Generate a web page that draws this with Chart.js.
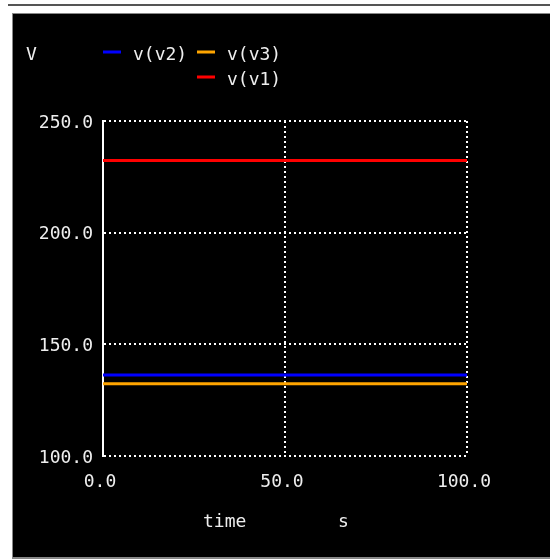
<!DOCTYPE html>
<html>
<head>
<meta charset="utf-8">
<script src="https://cdn.jsdelivr.net/npm/chart.js@4/dist/chart.umd.min.js"></script>
<style>
html,body{margin:0;padding:0;background:#fff;}
canvas{display:block;}
</style>
</head>
<body>
<canvas id="c" width="550" height="559"></canvas>
<script>
// ---- data ----
const time = [0, 100];
const v2 = [136.3, 136.3];
const v3 = [132.4, 132.4];
const v1 = [232.3, 232.3];
const seriesLabels = ['v(v2)', 'v(v3)', 'v(v1)'];
const seriesColors = ['#0000ff', '#ffa500', '#ff0000'];
const xTicks = [0, 50, 100];
const yTicks = [100, 150, 200, 250];
const yUnit = 'V';
const xTitle = 'time';
const xUnit = 's';

const FONT = '"DejaVu Sans Mono", "Liberation Mono", monospace';
const TXT = '#eeeeee';

const toPts = (xs, ys) => xs.map((x, i) => ({x: x, y: ys[i]}));

const framePlugin = {
  id: 'frame',
  beforeDraw(chart) {
    const ctx = chart.ctx;
    ctx.save();
    ctx.fillStyle = '#ffffff';
    ctx.fillRect(0, 0, 550, 559);
    ctx.fillStyle = '#555555';
    ctx.fillRect(8, 4, 542, 2);
    ctx.fillStyle = '#888888';
    ctx.fillRect(12, 13, 538, 546);
    ctx.fillStyle = '#000000';
    ctx.fillRect(13, 14, 537, 543);
    ctx.restore();
  },
  afterDraw(chart) {
    const ctx = chart.ctx;
    ctx.save();
    ctx.font = '18px ' + FONT;
    ctx.fillStyle = TXT;
    ctx.textBaseline = 'middle';
    ctx.textAlign = 'left';
    ctx.fillText(yUnit, 26, 55);
    // legend
    const slots = [
      {sx: 103, tx: 133, y: 52},
      {sx: 197, tx: 227, y: 52},
      {sx: 197, tx: 227, y: 77}
    ];
    chart.data.datasets.forEach((ds, i) => {
      const s = slots[i];
      ctx.fillStyle = ds.borderColor;
      ctx.fillRect(s.sx, s.y - 1.5, 18, 3);
      ctx.fillStyle = TXT;
      ctx.fillText(ds.label, s.tx, s.y + 3);
    });
    ctx.fillText(xTitle, 203, 522);
    ctx.fillText(xUnit, 338, 522);
    ctx.restore();
  }
};

new Chart(document.getElementById('c'), {
  type: 'line',
  data: {
    datasets: [
      {label: seriesLabels[0], data: toPts(time, v2), borderColor: seriesColors[0]},
      {label: seriesLabels[1], data: toPts(time, v3), borderColor: seriesColors[1]},
      {label: seriesLabels[2], data: toPts(time, v1), borderColor: seriesColors[2]}
    ]
  },
  options: {
    responsive: false,
    animation: false,
    devicePixelRatio: 1,
    layout: {padding: {left: 0, right: 83, top: 121, bottom: 0}},
    elements: {
      point: {radius: 0},
      line: {borderWidth: 3, tension: 0}
    },
    plugins: {legend: {display: false}, tooltip: {enabled: false}},
    scales: {
      x: {
        type: 'linear', min: 0, max: 100,
        afterBuildTicks: s => { s.ticks = xTicks.map(v => ({value: v})); },
        afterFit: s => { s.height = 103; },
        ticks: {
          color: TXT, font: {family: FONT, size: 18}, padding: 16, labelOffset: -3,
          maxRotation: 0, autoSkip: false,
          callback: v => Number(v).toFixed(1)
        },
        grid: {color: '#ffffff', lineWidth: 2, drawTicks: false},
        border: {display: false, dash: [2, 3]}
      },
      y: {
        type: 'linear', min: 100, max: 250,
        afterBuildTicks: s => { s.ticks = yTicks.map(v => ({value: v})); },
        afterFit: s => { s.width = 103; },
        ticks: {
          color: TXT, font: {family: FONT, size: 18}, padding: 10, labelOffset: 2,
          autoSkip: false,
          callback: v => Number(v).toFixed(1)
        },
        grid: {color: '#ffffff', lineWidth: 2, drawTicks: false},
        border: {display: true, color: '#ffffff', width: 2, dash: [2, 3]}
      }
    }
  },
  plugins: [framePlugin]
});
</script>
</body>
</html>
